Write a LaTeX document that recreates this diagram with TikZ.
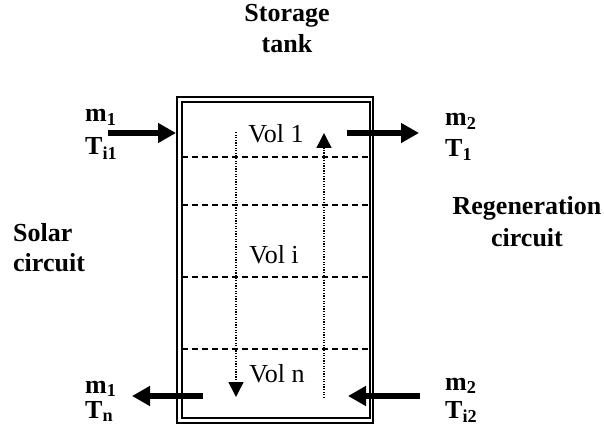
\documentclass[tikz,border=0pt]{standalone}
\usepackage{fontspec}
\setmainfont{Liberation Serif}
\usetikzlibrary{arrows.meta}
\begin{document}
\begin{tikzpicture}[x=1pt,y=-1pt,
  lbl/.style={font=\fontsize{26}{31}\selectfont\bfseries, inner sep=0pt},
  vol/.style={font=\fontsize{26}{31}\selectfont, inner sep=0pt},
  bigarrow/.style={line width=6.5pt, -{Triangle[length=18pt,width=19pt]}},
  flow/.style={line width=1.5pt, dash pattern=on 1.3pt off 1.3pt, -{Triangle[length=15pt,width=15pt]}},
  layer/.style={line width=1.6pt, dash pattern=on 6pt off 4pt},
  wall/.style={draw, line width=2pt, inner sep=0pt, outer sep=0pt}]
\useasboundingbox (0,0) rectangle (604,427);
% tank walls
\node[wall, minimum width=196pt, minimum height=325pt] (outer) at (275,260) {};
\node[wall, minimum width=188pt, minimum height=316pt] (inner) at (275.5,260) {};
% layer boundaries
\foreach \yy [count=\k] in {157,205,277,349} {
  \coordinate (L\k) at (181.5,\yy);
  \coordinate (R\k) at (369.5,\yy);
  \draw[layer] (L\k) -- (R\k);
}
% flow lines inside
\coordinate (dtop) at (236,132);
\coordinate (dbot) at (236,397);
\coordinate (ubot) at (324,398);
\coordinate (utop) at (324,133);
\draw[flow] (dtop) -- (dbot);
\draw[flow] (ubot) -- (utop);
% inlet / outlet arrows
\coordinate (a1s) at (108,133);
\coordinate (a1e) at (176,133);
\coordinate (a2s) at (347,133);
\coordinate (a2e) at (419,133);
\coordinate (a3s) at (203,396);
\coordinate (a3e) at (132,396);
\coordinate (a4s) at (420,396);
\coordinate (a4e) at (348,396);
\draw[bigarrow] (a1s) -- (a1e);
\draw[bigarrow] (a2s) -- (a2e);
\draw[bigarrow] (a3s) -- (a3e);
\draw[bigarrow] (a4s) -- (a4e);
% volume labels
\node[vol, anchor=base] (v1) at (276,143) {Vol 1};
\node[vol, anchor=base] (vi) at (274,263) {Vol i};
\node[vol, anchor=base] (vn) at (277,382) {Vol n};
% titles
\node[lbl, anchor=base] (st1) at (287,22) {Storage};
\node[lbl, anchor=base] (st2) at (287,53) {tank};
\node[lbl, anchor=base west] (so1) at (13,242) {Solar};
\node[lbl, anchor=base west] (so2) at (13,272) {circuit};
\node[lbl, anchor=base] (re1) at (527,215) {Regeneration};
\node[lbl, anchor=base] (re2) at (527,247) {circuit};
% stream labels
\node[lbl, anchor=base west] (m1a) at (85,122) {m\textsubscript{1}};
\node[lbl, anchor=base west] (t1a) at (85,155) {T\textsubscript{i1}};
\node[lbl, anchor=base west] (m2a) at (445,126) {m\textsubscript{2}};
\node[lbl, anchor=base west] (t2a) at (445,157) {T\textsubscript{1}};
\node[lbl, anchor=base west] (m1b) at (85,393) {m\textsubscript{1}};
\node[lbl, anchor=base west] (t1b) at (85,418) {T\textsubscript{n}};
\node[lbl, anchor=base west] (m2b) at (445,390) {m\textsubscript{2}};
\node[lbl, anchor=base west] (t2b) at (445,418) {T\textsubscript{i2}};
\end{tikzpicture}
\end{document}
